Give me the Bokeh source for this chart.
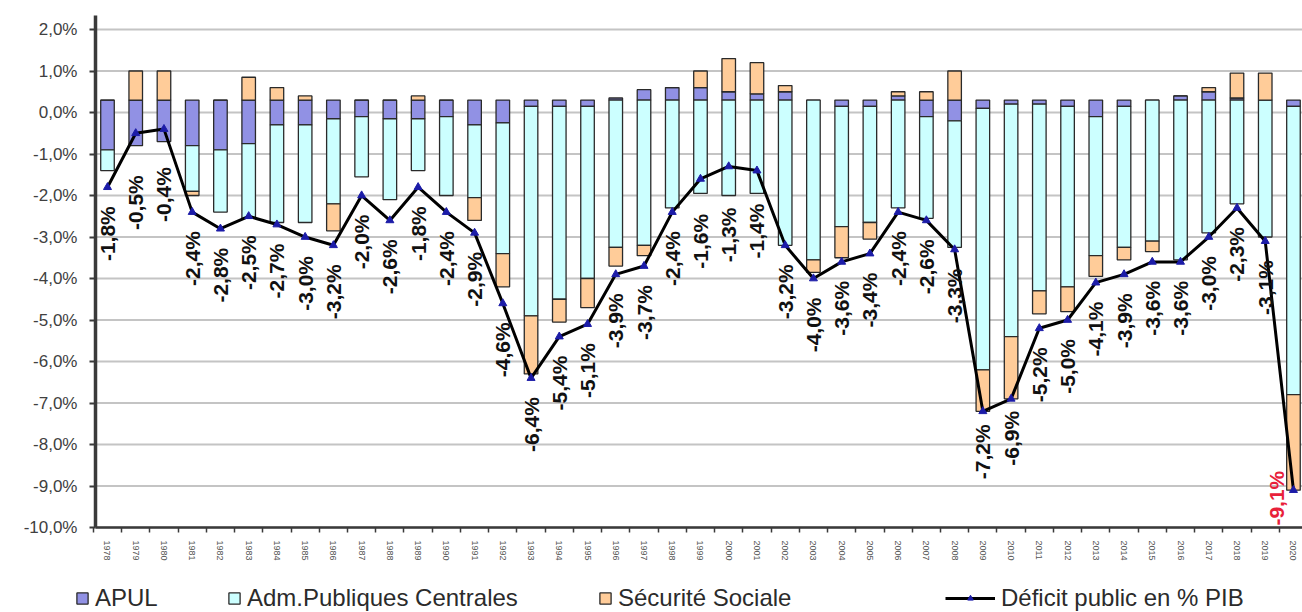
import numpy as np
from bokeh.plotting import figure
from bokeh.models import (ColumnDataSource, FixedTicker, Legend, LegendItem, LinearAxis,
                          NumeralTickFormatter)
from bokeh.embed import file_html
from bokeh.resources import INLINE
from bokeh.core.properties import value

# ---------------- data ----------------
years = list(range(1978, 2021))
apul = [-1.2, -1.1, -1.0, -1.1, -1.2, -1.05, -0.6, -0.6, -0.45, -0.4,
        -0.45, -0.45, -0.4, -0.6, -0.55, -0.15, -0.15, -0.15, 0.05, 0.25,
        0.3, 0.3, 0.2, 0.15, 0.2, 0.0, -0.15, -0.15, 0.1, -0.4,
        -0.5, -0.2, -0.1, -0.1, -0.15, -0.4, -0.15, 0.0, 0.1, 0.2,
        0.05, 0.0, -0.15]
apuc = [-0.5, 0.0, 0.0, -1.1, -1.5, -1.8, -2.35, -2.35, -2.05, -1.45,
        -1.95, -1.25, -1.9, -1.75, -3.15, -5.05, -4.65, -4.15, -3.55, -3.5,
        -2.6, -2.25, -2.3, -2.25, -3.5, -3.85, -2.9, -2.8, -2.6, -2.45,
        -3.05, -6.3, -5.6, -4.5, -4.35, -3.35, -3.4, -3.4, -3.85, -3.2,
        -2.5, -3.3, -6.95]
secu = [0.0, 0.7, 0.7, -0.1, 0.0, 0.55, 0.3, 0.1, -0.65, 0.0,
        0.0, 0.1, 0.0, -0.55, -0.8, -1.4, -0.55, -0.7, -0.45, -0.25,
        0.0, 0.4, 0.8, 0.75, 0.15, -0.3, -0.75, -0.4, 0.1, 0.2,
        0.7, -1.0, -1.5, -0.55, -0.6, -0.5, -0.3, -0.25, 0.0, 0.1,
        0.6, 0.65, -2.3]
deficit = [-1.8, -0.5, -0.4, -2.4, -2.8, -2.5, -2.7, -3.0, -3.2, -2.0,
           -2.6, -1.8, -2.4, -2.9, -4.6, -6.4, -5.4, -5.1, -3.9, -3.7,
           -2.4, -1.6, -1.3, -1.4, -3.2, -4.0, -3.6, -3.4, -2.4, -2.6,
           -3.3, -7.2, -6.9, -5.2, -5.0, -4.1, -3.9, -3.6, -3.6, -3.0,
           -2.3, -3.1, -9.1]
series_names = ["APUL", "Adm.Publiques Centrales", "Sécurité Sociale"]
line_name = "Déficit public en % PIB"
y_ticks = list(range(-10, 3))
BASELINE = 0.3  # level from which the bars are stacked

# ---------------- layout / style ----------------
FONT = "Liberation Sans"
COLORS = ["#9191E4", "#CCFFFF", "#FFCC99"]
BAR_LINE = "#2a2a2a"
MARK_COLOR = "#1c1ca8"
AXIS_COLOR = "#3a3a3a"
DEFAULT_GAP = 19
GAP_OVERRIDES = {1979: 42, 1980: 38, 1999: 35, 2000: 41, 2001: 33, 2009: 13, 2010: 12}
W, H = 1302, 612
X_RANGE = (1974.211, 2020.32)   # whole canvas width
Y_RANGE = (-12.048, 2.699)      # whole canvas height
Y_AXIS_AT = 1977.575            # x where the value axis is drawn
X_AXIS_AT = -10                 # y where the year axis is drawn
Y_TOP = 2.34                    # top end of the value axis line

# ---------------- stacking ----------------
n = len(years)
pos = np.full(n, BASELINE)
neg = np.full(n, BASELINE)
stack_sources = []
for vals in (apul, apuc, secu):
    v = np.array(vals, dtype=float)
    bottom = np.where(v >= 0, pos, neg + v)
    top = np.where(v >= 0, pos + v, neg)
    pos = np.where(v >= 0, pos + v, pos)
    neg = np.where(v < 0, neg + v, neg)
    stack_sources.append(ColumnDataSource(dict(x=years, bottom=bottom, top=top)))
line_src = ColumnDataSource(dict(x=years, y=deficit))

p = figure(width=W, height=H, x_range=X_RANGE, y_range=Y_RANGE,
           output_backend="svg", toolbar_location=None,
           x_axis_location=None, y_axis_location=None,
           min_border=0, min_border_left=0, min_border_right=0,
           min_border_top=0, min_border_bottom=0)
p.outline_line_color = None
p.grid.visible = False

# horizontal gridlines, from the value axis to the right edge
p.segment(x0=[Y_AXIS_AT] * len(y_ticks), x1=[X_RANGE[1]] * len(y_ticks), y0=y_ticks, y1=y_ticks,
          line_color="#c4c4c4", line_width=2)

bar_r = []
for src, col in zip(stack_sources, COLORS):
    bar_r.append(p.vbar(x="x", width=0.48, bottom="bottom", top="top", source=src,
                        fill_color=col, line_color=BAR_LINE, line_width=1.3))

line_r = p.line(x="x", y="y", source=line_src, line_color="black", line_width=3)
mark_r = p.scatter(x="x", y="y", source=line_src, marker="triangle", size=8,
                   fill_color=MARK_COLOR, line_color=MARK_COLOR)

labels = [f"{v:.1f}%".replace(".", ",") for v in deficit]
gaps = [GAP_OVERRIDES.get(y, DEFAULT_GAP) for y in years]
lab_src = ColumnDataSource(dict(x=years[:-1], y=deficit[:-1], t=labels[:-1], g=gaps[:-1]))
p.text(x="x", y="y", text="t", y_offset="g", source=lab_src, angle=np.pi / 2,
       text_align="right", text_baseline="middle", text_font=value(FONT),
       text_font_style="bold", text_font_size="21px", text_color="#111111")
last_src = ColumnDataSource(dict(x=years[-1:], y=deficit[-1:], t=labels[-1:]))
p.text(x="x", y="y", text="t", source=last_src, angle=np.pi / 2, x_offset=-17, y_offset=8,
       text_align="center", text_baseline="middle", text_font=value(FONT),
       text_font_style="bold", text_font_size="21px", text_color="#E8203A")

# value axis
ya = LinearAxis(fixed_location=Y_AXIS_AT, bounds=(X_AXIS_AT, Y_TOP),
                ticker=FixedTicker(ticks=y_ticks))
ya.major_label_overrides = {t: f"{t:.1f}%".replace(".", ",") for t in y_ticks}
ya.axis_line_width = 3.5
ya.axis_line_color = AXIS_COLOR
ya.major_tick_out = 6
ya.major_tick_in = 0
ya.major_tick_line_color = AXIS_COLOR
ya.major_tick_line_width = 2
ya.minor_tick_line_color = None
ya.major_label_text_font = FONT
ya.major_label_text_font_size = "17px"
ya.major_label_text_color = "#404040"
ya.major_label_standoff = 12
p.add_layout(ya, "left")

# year axis
xa = LinearAxis(fixed_location=X_AXIS_AT, bounds=(Y_AXIS_AT, X_RANGE[1]),
                ticker=FixedTicker(ticks=years,
                                   minor_ticks=[y - 0.5 for y in years] + [years[-1] + 0.5]),
                formatter=NumeralTickFormatter(format="0"))
xa.major_tick_line_color = None
xa.major_tick_out = 0
xa.minor_tick_out = 5
xa.minor_tick_in = 0
xa.minor_tick_line_color = AXIS_COLOR
xa.minor_tick_line_width = 1.5
xa.axis_line_width = 2.5
xa.axis_line_color = AXIS_COLOR
xa.major_label_orientation = "vertical"
xa.major_label_text_font = FONT
xa.major_label_text_font_size = "9px"
xa.major_label_text_color = "#555555"
xa.major_label_standoff = 8
p.add_layout(xa, "below")

# legends, one per entry, placed along the bottom edge
def add_legend(items, x, glyph_w):
    leg = Legend(items=items, location=(x, 0), orientation="horizontal",
                 glyph_width=glyph_w, glyph_height=14, label_height=24, label_standoff=6,
                 padding=0, margin=0, spacing=0, border_line_color=None,
                 background_fill_alpha=0, label_text_font=FONT,
                 label_text_font_size="24px", label_text_color="#2b2b2b")
    p.add_layout(leg)

add_legend([LegendItem(label=series_names[0], renderers=[bar_r[0]])], 75, 14)
add_legend([LegendItem(label=series_names[1], renderers=[bar_r[1]])], 227, 14)
add_legend([LegendItem(label=series_names[2], renderers=[bar_r[2]])], 598, 14)
add_legend([LegendItem(label=line_name, renderers=[line_r, mark_r])], 945, 50)

open("out.html", "w").write(file_html(p, INLINE))
